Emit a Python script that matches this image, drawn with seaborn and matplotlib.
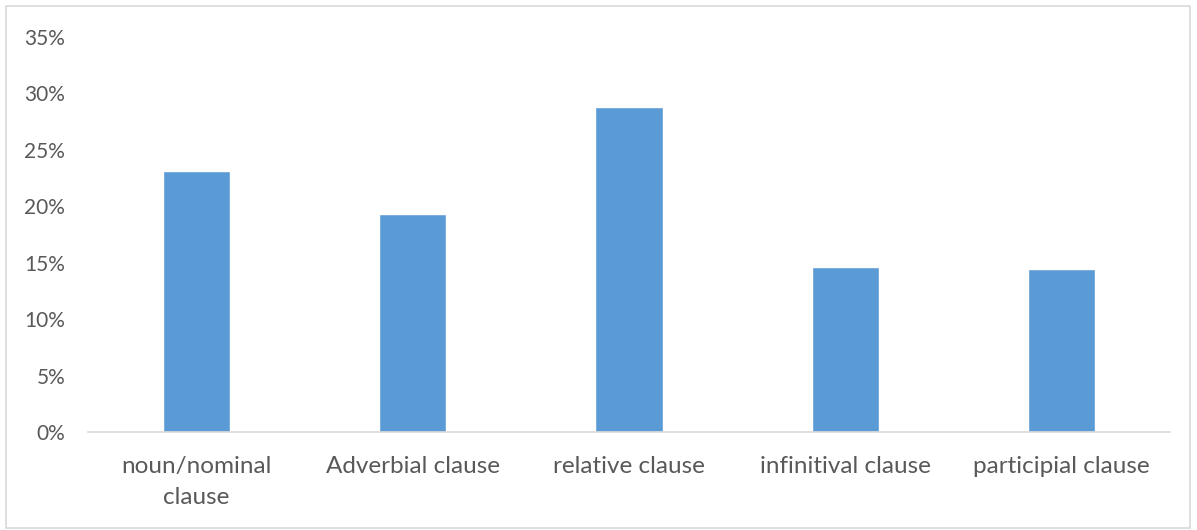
import matplotlib
matplotlib.use("Agg")
import matplotlib.pyplot as plt
import matplotlib.patches as mpatches
from matplotlib.ticker import PercentFormatter
import seaborn as sns
import pandas as pd

categories = ["noun/nominal\nclause", "Adverbial clause", "relative clause",
              "infinitival clause", "participial clause"]
shares = [0.231, 0.193, 0.288, 0.146, 0.144]
y_ticks = [0, 0.05, 0.10, 0.15, 0.20, 0.25, 0.30, 0.35]

df = pd.DataFrame({"category": categories, "share": shares})

sns.set_theme(style="white")
plt.rcParams["font.family"] = ["Lato", "DejaVu Sans"]

W, H = 1197, 530
fig = plt.figure(figsize=(W / 100, H / 100), dpi=100)
ax = fig.add_axes([88 / W, (H - 432) / H, (1170 - 88) / W, (432 - 37) / H])

sns.barplot(data=df, x="category", y="share", color="#5B9BD5", saturation=1,
            width=0.31, ax=ax)

ax.set_ylim(0, 0.35)
ax.set_xlim(-0.5, len(categories) - 0.5)
ax.set_yticks(y_ticks)
ax.yaxis.set_major_formatter(PercentFormatter(1.0, decimals=0))
ax.set_xlabel("")
ax.set_ylabel("")
for s in ["top", "right", "left"]:
    ax.spines[s].set_visible(False)
ax.spines["bottom"].set_color("#D9D9D9")
ax.spines["bottom"].set_linewidth(1.2)
ax.tick_params(axis="both", length=0, colors="#595959")
ax.tick_params(axis="y", pad=16.5, labelsize=15)
ax.tick_params(axis="x", pad=17.5, labelsize=17.5)
for lbl in ax.get_xticklabels():
    lbl.set_linespacing(1.55)

# outer chart frame
fig.patches.append(mpatches.Rectangle((6 / W, 2 / H), (1190 - 6) / W, (524 - 2) / H,
                                      transform=fig.transFigure, fill=False,
                                      edgecolor="#D9D9D9", linewidth=1.2))

fig.savefig("out.png", dpi=100)
